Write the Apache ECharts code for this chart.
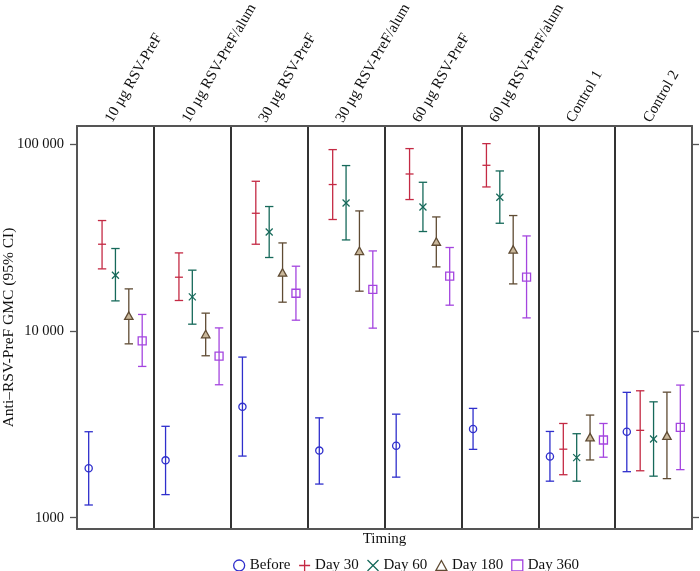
<!DOCTYPE html>
<html>
<head>
<meta charset="utf-8">
<script src="https://cdn.jsdelivr.net/npm/echarts@6/dist/echarts.min.js"></script>
<style>html,body{margin:0;padding:0;background:#fff}#c{width:700px;height:571px}</style>
</head>
<body>
<div id="c"></div>
<script>
const groups = ['10 µg RSV-PreF','10 µg RSV-PreF/alum','30 µg RSV-PreF','30 µg RSV-PreF/alum','60 µg RSV-PreF','60 µg RSV-PreF/alum','Control 1','Control 2'];
const timings = ['Before','Day 30','Day 60','Day 180','Day 360'];
const yTicks = [1000, 10000, 100000];

const beforeMean = [1840, 2030, 3930, 2290, 2430, 2990, 2130, 2890];
const beforeLow  = [1170, 1330, 2140, 1515, 1650, 2325, 1570, 1765];
const beforeHigh = [2890, 3090, 7260, 3430, 3590, 3855, 2900, 4700];

const day30Mean = [29240, 19460, 42850, 61080, 69570, 77460, 2330, 2940];
const day30Low  = [21570, 14600, 29240, 39670, 50750, 59290, 1700, 1785];
const day30High = [39170, 26270, 63590, 94000, 95180, 101200, 3200, 4790];

const day60Mean = [19950, 15270, 34030, 48670, 46340, 52210, 2100, 2640];
const day60Low  = [14530, 10900, 24820, 30830, 34200, 37880, 1570, 1670];
const day60High = [27730, 21230, 46560, 77200, 62810, 72230, 2820, 4180];

const day180Mean = [11990, 9560, 20450, 26720, 29970, 27160, 2680, 2730];
const day180Low  = [8550, 7380, 14300, 16380, 22100, 17920, 2040, 1620];
const day180High = [16850, 12490, 29710, 44100, 40950, 41660, 3550, 4710];

const day360Mean = [8870, 7350, 15970, 16730, 19700, 19460, 2610, 3050];
const day360Low  = [6470, 5160, 11450, 10380, 13780, 11780, 2110, 1810];
const day360High = [12290, 10410, 22290, 26920, 28080, 32390, 3200, 5140];

const seriesMeans = [beforeMean, day30Mean, day60Mean, day180Mean, day360Mean];
const seriesLows  = [beforeLow, day30Low, day60Low, day180Low, day360Low];
const seriesHighs = [beforeHigh, day30High, day60High, day180High, day360High];

const colors = ['#2f2fcc', '#c42a44', '#16695a', '#5f4b33', '#a445df'];
const markers = ['circle', 'plus', 'cross', 'triangle', 'square'];
const legendIcons = ['circle', 'path://M5,0L5,10M0,5L10,5', 'path://M0,0L10,10M10,0L0,10', 'path://M5,0L10,9L0,9Z', 'path://M0,0L10,0L10,10L0,10Z'];
const FONT = 'Liberation Serif';

function fmt(v) {
  v = Math.round(v);
  if (v >= 10000) return String(v).replace(/\B(?=(\d{3})+(?!\d))/g, ' ');
  return String(v);
}

function markerShape(type, x, y, color) {
  const s = {stroke: color, fill: 'none', lineWidth: 1.3};
  if (type === 'circle') return {type: 'circle', shape: {cx: x, cy: y, r: 3.6}, style: s};
  if (type === 'plus') return {type: 'polyline', shape: {points: [[x-4, y],[x+4, y]]}, style: s};
  if (type === 'cross') return {type: 'group', children: [
    {type: 'line', shape: {x1: x-3.5, y1: y-3.5, x2: x+3.5, y2: y+3.5}, style: s},
    {type: 'line', shape: {x1: x+3.5, y1: y-3.5, x2: x-3.5, y2: y+3.5}, style: s}]};
  if (type === 'triangle') return {type: 'polygon', shape: {points: [[x, y-4.5],[x+4.2, y+3],[x-4.2, y+3]]}, style: {stroke: color, fill: '#c9b79a', lineWidth: 1.3}};
  return {type: 'rect', shape: {x: x-4, y: y-4, width: 8, height: 8}, style: s};
}

const series = timings.map((name, k) => ({
  name: name,
  type: 'custom',
  xAxisIndex: 0,
  yAxisIndex: 0,
  itemStyle: {color: colors[k]},
  encode: {x: 0, y: [1, 2, 3]},
  data: groups.map((g, i) => [i, seriesMeans[k][i], seriesLows[k][i], seriesHighs[k][i]]),
  renderItem: function (params, api) {
    const cat = api.value(0);
    const pm = api.coord([cat, api.value(1)]);
    const pl = api.coord([cat, api.value(2)]);
    const ph = api.coord([cat, api.value(3)]);
    const band = api.size([1, 0])[0];
    const x = pm[0] + (k - 2) * 0.174 * band;
    const c = colors[k];
    const st = {stroke: c, lineWidth: 1.3};
    const cap = 4.2;
    return {type: 'group', children: [
      {type: 'line', shape: {x1: x, y1: ph[1], x2: x, y2: pl[1]}, style: st},
      {type: 'line', shape: {x1: x - cap, y1: ph[1], x2: x + cap, y2: ph[1]}, style: st},
      {type: 'line', shape: {x1: x - cap, y1: pl[1], x2: x + cap, y2: pl[1]}, style: st},
      markerShape(markers[k], x, pm[1], c)
    ]};
  }
}));

const chart = echarts.init(document.getElementById('c'), null, {renderer: 'canvas'});
chart.setOption({
  animation: false,
  backgroundColor: '#fff',
  textStyle: {fontFamily: FONT},
  grid: {left: 77, right: 8, top: 126, bottom: 42, containLabel: false, outerBoundsMode: 'none'},
  legend: {
    left: 228, top: 553,
    itemWidth: 11, itemHeight: 11, itemGap: 8,
    textStyle: {fontFamily: FONT, fontSize: 15, color: '#111'},
    data: timings.map((t, k) => ({
      name: t, icon: legendIcons[k],
      itemStyle: {color: 'transparent', borderColor: colors[k], borderWidth: 1.3}
    }))
  },
  xAxis: [{
    type: 'category', position: 'top', data: groups,
    axisLine: {show: true, lineStyle: {color: '#555', width: 2}},
    axisTick: {show: false},
    splitLine: {show: true, lineStyle: {color: '#333', width: 2}},
    axisLabel: {rotate: -60, interval: 0, margin: 1, verticalAlign: 'bottom', fontFamily: FONT, fontSize: 15, color: '#111'}
  }, {
    type: 'category', position: 'bottom', data: groups,
    axisLine: {show: true, lineStyle: {color: '#555', width: 2}},
    axisTick: {show: false}, axisLabel: {show: false},
    name: 'Timing', nameLocation: 'middle', nameGap: 3,
    nameTextStyle: {fontFamily: FONT, fontSize: 15, color: '#111', verticalAlign: 'top'}
  }],
  yAxis: [{
    type: 'log', logBase: 10, min: 870, max: 125800, position: 'left',
    axisLine: {show: true, lineStyle: {color: '#555', width: 2}},
    axisTick: {show: true, length: 7, lineStyle: {color: '#555', width: 1.3}, customValues: yTicks},
    axisLabel: {margin: 13, fontFamily: FONT, fontSize: 14.5, color: '#111', formatter: fmt, customValues: yTicks},
    splitLine: {show: false},
    name: 'Anti–RSV-PreF GMC (95% CI)', nameLocation: 'middle', nameGap: 60, nameMoveOverlap: false,
    nameTextStyle: {fontFamily: FONT, fontSize: 15.5, color: '#111'}
  }, {
    type: 'log', logBase: 10, min: 870, max: 125800, position: 'right',
    axisLine: {show: true, lineStyle: {color: '#555', width: 2}},
    axisTick: {show: true, length: 7, lineStyle: {color: '#555', width: 1.3}, customValues: yTicks},
    axisLabel: {show: false},
    splitLine: {show: false}
  }],
  series: series
});
</script>
</body>
</html>
